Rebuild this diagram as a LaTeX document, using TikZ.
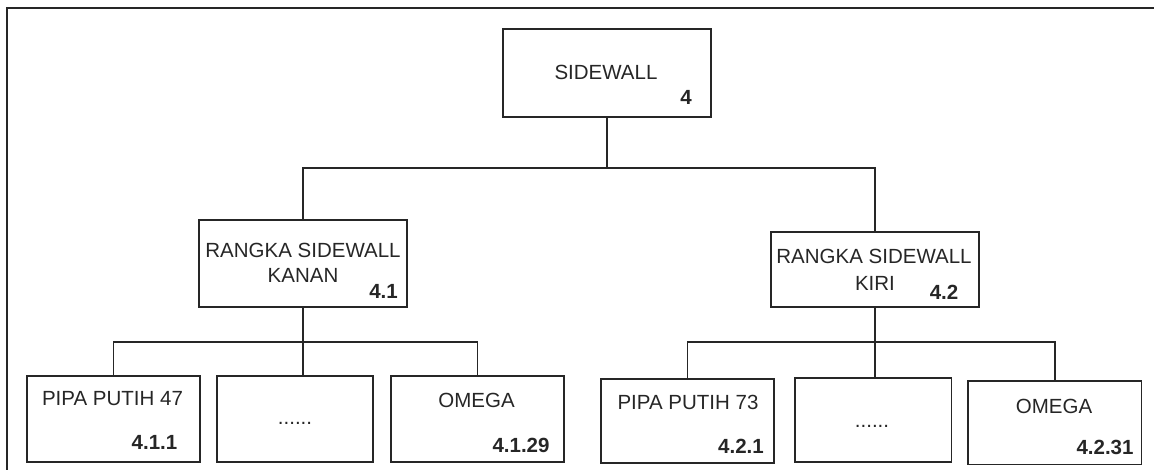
\documentclass[tikz,border=0pt]{standalone}
\usepackage{fontspec}
\setmainfont{Liberation Sans}
\begin{document}
\begin{tikzpicture}[x=1pt,y=-1pt,
  box/.style={draw=black!85, line width=1.5pt, rectangle, inner sep=0pt},
  lbl/.style={inner sep=0pt, text=black!85, font=\fontsize{20.5}{24}\selectfont},
  num/.style={inner sep=0pt, text=black!85, font=\fontsize{20.5}{24}\selectfont\bfseries},
  conn/.style={draw=black!85, line width=1.5pt}]
\useasboundingbox (0,0) rectangle (1154,470);
% outer frame
\draw[black!85, line width=2pt] (7,472) -- (7,8) -- (1156,8);
% boxes
\node[box, minimum width=208pt, minimum height=88pt] (sw) at (607,73) {};
\node[box, minimum width=208pt, minimum height=87pt] (kanan) at (303,263.5) {};
\node[box, minimum width=208pt, minimum height=75pt] (kiri) at (875,269.5) {};
\node[box, minimum width=173pt, minimum height=86pt] (p47) at (113.5,419) {};
\node[box, minimum width=156pt, minimum height=86pt] (d1) at (295,419) {};
\node[box, minimum width=173pt, minimum height=86pt] (om1) at (477.5,419) {};
\node[box, minimum width=173pt, minimum height=84pt] (p73) at (687.5,421) {};
\node[box, minimum width=156.5pt, minimum height=84pt] (d2) at (873,420) {};
\node[box, minimum width=173.5pt, minimum height=83.5pt] (om2) at (1054.75,422.75) {};
% texts
\node[lbl] (t-sw) at (606,72) {SIDEWALL};
\node[num] (n-sw) at (686,97.5) {4};
\node[lbl] (t-kanan1) at (303,250) {RANGKA SIDEWALL};
\node[lbl] (t-kanan2) at (303,275.5) {KANAN};
\node[num] (n-kanan) at (383.5,291) {4.1};
\node[lbl] (t-kiri1) at (874,256.5) {RANGKA SIDEWALL};
\node[lbl] (t-kiri2) at (875,283) {KIRI};
\node[num] (n-kiri) at (944,292) {4.2};
\node[lbl] (t-p47) at (112.5,399) {PIPA PUTIH 47};
\node[num] (n-p47) at (154.5,442.5) {4.1.1};
\node[lbl] (t-d1) at (295,423) {......};
\node[lbl] (t-om1) at (476.6,400) {OMEGA};
\node[num] (n-om1) at (521,445) {4.1.29};
\node[lbl] (t-p73) at (688,402.7) {PIPA PUTIH 73};
\node[num] (n-p73) at (741,446.7) {4.2.1};
\node[lbl] (t-d2) at (872,426) {......};
\node[lbl] (t-om2) at (1054,406) {OMEGA};
\node[num] (n-om2) at (1105,447) {4.2.31};
% bus coordinates
\coordinate (bus1) at (0,168);
\coordinate (bus2) at (0,342);
% connectors
\draw[conn] (sw.south) -- (sw.south |- bus1);
\draw[conn] (sw.south |- bus1) -| (kanan.north);
\draw[conn] (sw.south |- bus1) -| (kiri.north);
\draw[conn] (kanan.south) -- (kanan.south |- bus2);
\draw[conn] (kanan.south |- bus2) -| (p47.north);
\draw[conn] (kanan.south |- bus2) -| (om1.north);
\draw[conn] (kanan.south |- bus2) -- (kanan.south |- d1.north);
\draw[conn] (kiri.south) -- (kiri.south |- bus2);
\draw[conn] (kiri.south |- bus2) -| (p73.north);
\draw[conn] (kiri.south |- bus2) -| (om2.north);
\draw[conn] (kiri.south |- bus2) -- (kiri.south |- d2.north);
\end{tikzpicture}
\end{document}
